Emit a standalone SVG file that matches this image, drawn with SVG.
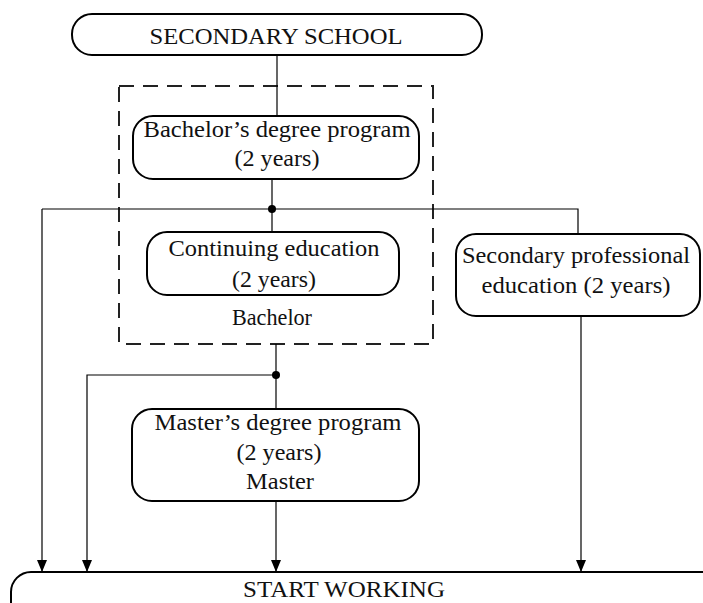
<svg xmlns="http://www.w3.org/2000/svg" width="703" height="603" viewBox="0 0 703 603">
<style>
.box{fill:#fff;stroke:#000;stroke-width:2}
.t{font-family:"Liberation Serif","Times New Roman",serif;font-size:23px;fill:#111;text-anchor:middle}
.c{fill:none;stroke:#000;stroke-width:1.2}
.ah{fill:#000}
</style>
<rect x="0" y="0" width="703" height="603" fill="#fff"/>
<g id="bachelor-group">
<rect x="119" y="86" width="314" height="258" fill="none" stroke="#222" stroke-width="2" stroke-dasharray="15,9"/>
</g>
<g id="connectors">
<path class="c" d="M277,55 V116"/>
<path class="c" d="M272,179 V232"/>
<path class="c" d="M42,209 H578 V234"/>
<path class="c" d="M42,209 V572"/>
<path class="c" d="M581,316 V572"/>
<path class="c" d="M276,344 V409"/>
<path class="c" d="M276,375 H87 V572"/>
<path class="c" d="M276,501 V572"/>
<polygon class="ah" points="37,560 47,560 42,572"/>
<polygon class="ah" points="82,560 92,560 87,572"/>
<polygon class="ah" points="271,560 281,560 276,572"/>
<polygon class="ah" points="576,560 586,560 581,572"/>
<circle cx="272" cy="209" r="4" fill="#000"/>
<circle cx="276" cy="375" r="4" fill="#000"/>
</g>
<g id="secondary-school">
<rect class="box" x="72" y="14" width="410" height="41" rx="20"/>
<text class="t" x="276" y="44" textLength="253" lengthAdjust="spacingAndGlyphs">SECONDARY SCHOOL</text>
</g>
<g id="bachelor-program">
<rect class="box" x="133" y="116" width="286" height="63" rx="20"/>
<text class="t" x="277" y="137" textLength="267" lengthAdjust="spacingAndGlyphs">Bachelor’s degree program</text>
<text class="t" x="277" y="166" textLength="85" lengthAdjust="spacingAndGlyphs">(2 years)</text>
</g>
<g id="continuing-education">
<rect class="box" x="147" y="232" width="252" height="63" rx="20"/>
<text class="t" x="274" y="256" textLength="211" lengthAdjust="spacingAndGlyphs">Continuing education</text>
<text class="t" x="274" y="287" textLength="84" lengthAdjust="spacingAndGlyphs">(2 years)</text>
</g>
<g id="bachelor-label">
<text class="t" x="272" y="325" textLength="80" lengthAdjust="spacingAndGlyphs">Bachelor</text>
</g>
<g id="secondary-professional">
<rect class="box" x="456" y="234" width="244" height="82" rx="20"/>
<text class="t" x="576" y="263" textLength="228" lengthAdjust="spacingAndGlyphs">Secondary professional</text>
<text class="t" x="576" y="293" textLength="189" lengthAdjust="spacingAndGlyphs">education (2 years)</text>
</g>
<g id="master-program">
<rect class="box" x="132" y="409" width="287" height="92" rx="20"/>
<text class="t" x="278" y="430" textLength="247" lengthAdjust="spacingAndGlyphs">Master’s degree program</text>
<text class="t" x="279" y="460" textLength="85" lengthAdjust="spacingAndGlyphs">(2 years)</text>
<text class="t" x="280" y="489" textLength="68" lengthAdjust="spacingAndGlyphs">Master</text>
</g>
<g id="start-working">
<rect class="box" x="11" y="572" width="710" height="60" rx="20"/>
<text class="t" x="344" y="597" textLength="202" lengthAdjust="spacingAndGlyphs">START WORKING</text>
</g>
</svg>
